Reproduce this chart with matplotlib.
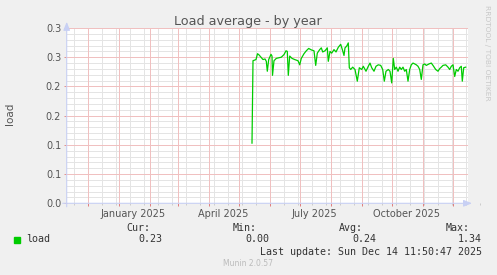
import matplotlib
matplotlib.use("Agg")
import matplotlib.pyplot as plt
import matplotlib.transforms as mtransforms
import pandas as pd

# load average samples: days since 2025-01-01 and value
days = [133.5, 134.5, 137.5, 139, 140.5, 142, 144.5, 146.5, 147.8, 148.8,
        150.2, 152.5, 153.5, 154, 155.5, 157.8, 160.2, 162.8, 165.5, 167.5,
        168.8, 169.8, 171.2, 173.5, 176.2, 179.5, 181.2, 182.8, 185.5, 187.8,
        190.2, 192.8, 195.5, 197.2, 198.8, 201.2, 202.8, 204.2, 206.5, 208.8,
        209.8, 211.5, 213.2, 215.5, 217.5, 219.8, 222.2, 224.2, 225.5, 226.5,
        228.2, 229.8, 230.8, 232.2, 234.2, 236.5, 238.8, 240.8, 243.2, 244.8,
        247.5, 249.8, 251.5, 253.2, 255.5, 257.5, 259.8, 262.2, 264.2, 265.8,
        267.5, 269.8, 271.5, 273.2, 274.8, 276.2, 277.8, 279.5, 281.2, 282.8,
        284.5, 286.2, 287.8, 289.5, 291.2, 292.8, 294.5, 296.2, 297.8, 299.5,
        301.2, 302.8, 304.5, 306.2, 307.8, 310.5, 312.8, 314.5, 317.2, 319.5,
        321.2, 322.8, 324.5, 327.2, 329.5, 331.2, 332.8, 334.5, 336.2, 337.8,
        339.5, 341.2, 342.8, 343.8, 345.2, 347.2]
load = [0.103, 0.244, 0.246, 0.256, 0.254, 0.251, 0.246, 0.247, 0.243, 0.226,
        0.246, 0.255, 0.252, 0.219, 0.244, 0.248, 0.249, 0.250, 0.2545, 0.261,
        0.260, 0.219, 0.252, 0.248, 0.246, 0.244, 0.237, 0.248, 0.256, 0.261,
        0.265, 0.2625, 0.261, 0.236, 0.257, 0.263, 0.266, 0.259, 0.261, 0.266,
        0.243, 0.260, 0.257, 0.263, 0.259, 0.267, 0.272, 0.261, 0.253, 0.266,
        0.269, 0.2745, 0.232, 0.229, 0.233, 0.229, 0.209, 0.232, 0.229, 0.2345,
        0.226, 0.2345, 0.240, 0.232, 0.226, 0.2345, 0.237, 0.236, 0.229, 0.209,
        0.226, 0.229, 0.226, 0.206, 0.248, 0.229, 0.233, 0.226, 0.233, 0.229,
        0.233, 0.226, 0.229, 0.209, 0.229, 0.237, 0.240, 0.2385, 0.237, 0.2345,
        0.229, 0.212, 0.237, 0.2385, 0.236, 0.2385, 0.240, 0.236, 0.229, 0.226,
        0.2305, 0.233, 0.236, 0.237, 0.233, 0.229, 0.2345, 0.237, 0.217, 0.229,
        0.226, 0.232, 0.2345, 0.209, 0.232, 0.233]

yticks = [0.0, 0.05, 0.10, 0.15, 0.20, 0.25, 0.30]
ytick_labels = ["0.0", "0.1", "0.1", "0.2", "0.2", "0.3", "0.3"]
month_labels = ["January 2025", "April 2025", "July 2025", "October 2025"]
month_label_dates = ["2025-01-01", "2025-04-01", "2025-07-01", "2025-10-01"]
legend_cols = ["Cur:", "Min:", "Avg:", "Max:"]
legend_vals = ["0.23", "0.00", "0.24", "1.34"]

base = pd.Timestamp("2025-01-01")
t = base + pd.to_timedelta(days, unit="D")

W, H = 497, 275
fig = plt.figure(figsize=(W / 100, H / 100), dpi=100, facecolor="#f0f0f0")
x0, x1, ytop, ybot = 66.7, 468.0, 28.0, 203.3
ax = fig.add_axes([x0 / W, 1 - ybot / H, (x1 - x0) / W, (ybot - ytop) / H])
ax.set_facecolor("white")

xmin = base + pd.Timedelta(days=-51.8)
xmax = base + pd.Timedelta(days=349.5)
ax.set_xlim(xmin, xmax)
ax.set_ylim(0, 0.3)

# dotted rrdtool grid, drawn as light solid lines (same average tone)
minor_c = "#e4e4e4"
major_c = "#f0c0c0"
px = 0.72  # one pixel in points
weeks = pd.date_range("2024-11-17", "2025-12-31", freq="14D")
for d in weeks:
    ax.axvline(d, color=minor_c, lw=px, zorder=1)
for i in range(31):
    ax.axhline(i * 0.01, color=minor_c, lw=px, zorder=1)
months = pd.date_range("2024-12-01", "2025-12-01", freq="MS")
for d in months:
    ax.axvline(d, color=major_c, lw=px, zorder=2)
for v in yticks:
    ax.axhline(v, color=major_c, lw=px, zorder=2)

# small tick marks under x axis
trans = mtransforms.blended_transform_factory(ax.transData, ax.transAxes)
ax.vlines(weeks, -0.012, 0, colors="#cccccc", lw=px, transform=trans, clip_on=False)
ax.vlines(months, -0.014, 0, colors="#e08080", lw=px, transform=trans, clip_on=False)

ax.plot(t, load, color="#00cc00", lw=0.9, zorder=5)

for s in ax.spines.values():
    s.set_visible(False)

ax.set_yticks(yticks)
ax.set_yticklabels(ytick_labels)
ax.tick_params(axis="y", length=2, width=0.6, color="#e08080", pad=2,
               labelsize=7, labelcolor="#555555")
ax.set_xticks([pd.Timestamp(d) + pd.Timedelta(days=15) for d in month_label_dates])
ax.set_xticklabels(month_labels)
ax.tick_params(axis="x", length=0, pad=4, labelsize=7, labelcolor="#555555")

axis_c = "#c8d0f4"
ax.annotate("", xy=(0, 1.035), xytext=(0, -0.02), xycoords="axes fraction",
            arrowprops=dict(arrowstyle="-|>,head_length=0.5,head_width=0.2",
                            color=axis_c, lw=0.8, shrinkA=0, shrinkB=0),
            annotation_clip=False)
ax.annotate("", xy=(1.01, 0), xytext=(-0.01, 0), xycoords="axes fraction",
            arrowprops=dict(arrowstyle="-|>,head_length=0.5,head_width=0.2",
                            color=axis_c, lw=0.8, shrinkA=0, shrinkB=0),
            annotation_clip=False)

def fx(p):
    return p / W

def fy(p):
    return 1 - p / H

fig.text(fx(248), fy(24.5), "Load average - by year", ha="center", va="baseline",
         fontsize=9.2, color="#555555")
fig.text(fx(10), fy(114), "load", ha="center", va="center", rotation=90,
         fontsize=7.5, color="#555555")
fig.text(fx(487), fy(53), "RRDTOOL / TOBI OETIKER", ha="center", va="center",
         rotation=270, fontsize=5.4, color="#c8c8c8")

mono = "DejaVu Sans Mono"
col_x = [150, 257, 363, 470]
val_x = [162, 269, 376, 482]
for cx, lab in zip(col_x, legend_cols):
    fig.text(fx(cx), fy(228), lab, ha="right", va="center", family=mono,
             fontsize=7.2, color="#333333")
for vx, val in zip(val_x, legend_vals):
    fig.text(fx(vx), fy(239.5), val, ha="right", va="center", family=mono,
             fontsize=7.2, color="#333333")
fig.patches.append(plt.Rectangle((fx(14), fy(242.7)), 5.5 / W, 5.5 / H,
                                 transform=fig.transFigure, color="#00cc00"))
fig.text(fx(26.5), fy(239.5), "load", ha="left", va="center", family=mono,
         fontsize=7.2, color="#333333")
fig.text(fx(482), fy(251.7), "Last update: Sun Dec 14 11:50:47 2025", ha="right",
         va="center", family=mono, fontsize=7.2, color="#333333")
fig.text(fx(248), fy(263.5), "Munin 2.0.57", ha="center", va="center",
         fontsize=5.5, color="#bbbbbb")

fig.savefig("out.png", dpi=100, facecolor=fig.get_facecolor())
